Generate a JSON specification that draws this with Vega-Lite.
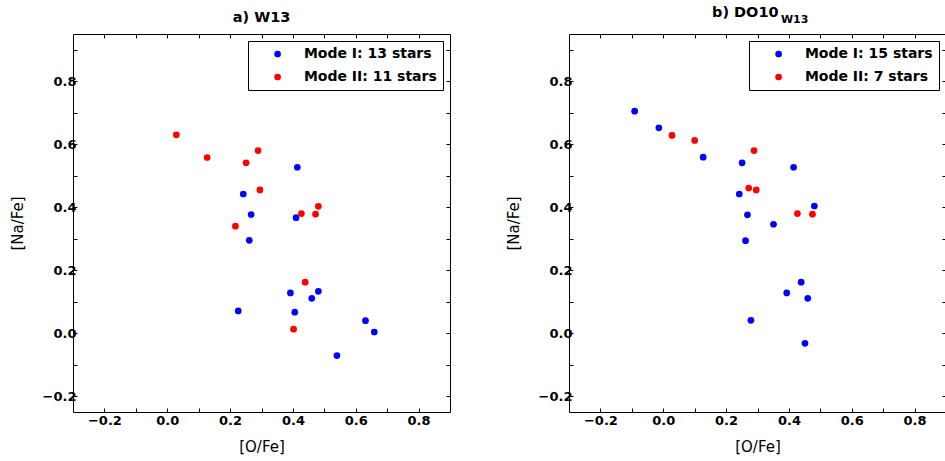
{
  "$schema": "https://vega.github.io/schema/vega-lite/v6.json",
  "background": "white",
  "padding": {"left": 9, "top": 4, "right": 0, "bottom": 0},
  "datasets": {
    "w13": [
      {"OFe": 0.414, "NaFe": 0.527, "mode": "Mode I"},
      {"OFe": 0.242, "NaFe": 0.442, "mode": "Mode I"},
      {"OFe": 0.267, "NaFe": 0.377, "mode": "Mode I"},
      {"OFe": 0.410, "NaFe": 0.367, "mode": "Mode I"},
      {"OFe": 0.261, "NaFe": 0.295, "mode": "Mode I"},
      {"OFe": 0.392, "NaFe": 0.128, "mode": "Mode I"},
      {"OFe": 0.481, "NaFe": 0.133, "mode": "Mode I"},
      {"OFe": 0.460, "NaFe": 0.111, "mode": "Mode I"},
      {"OFe": 0.226, "NaFe": 0.071, "mode": "Mode I"},
      {"OFe": 0.406, "NaFe": 0.067, "mode": "Mode I"},
      {"OFe": 0.631, "NaFe": 0.040, "mode": "Mode I"},
      {"OFe": 0.659, "NaFe": 0.004, "mode": "Mode I"},
      {"OFe": 0.540, "NaFe": -0.071, "mode": "Mode I"},
      {"OFe": 0.029, "NaFe": 0.630, "mode": "Mode II"},
      {"OFe": 0.127, "NaFe": 0.558, "mode": "Mode II"},
      {"OFe": 0.289, "NaFe": 0.580, "mode": "Mode II"},
      {"OFe": 0.251, "NaFe": 0.541, "mode": "Mode II"},
      {"OFe": 0.295, "NaFe": 0.455, "mode": "Mode II"},
      {"OFe": 0.481, "NaFe": 0.403, "mode": "Mode II"},
      {"OFe": 0.427, "NaFe": 0.380, "mode": "Mode II"},
      {"OFe": 0.472, "NaFe": 0.378, "mode": "Mode II"},
      {"OFe": 0.217, "NaFe": 0.340, "mode": "Mode II"},
      {"OFe": 0.439, "NaFe": 0.162, "mode": "Mode II"},
      {"OFe": 0.402, "NaFe": 0.013, "mode": "Mode II"}
    ],
    "do10": [
      {"OFe": -0.091, "NaFe": 0.705, "mode": "Mode I"},
      {"OFe": -0.014, "NaFe": 0.652, "mode": "Mode I"},
      {"OFe": 0.127, "NaFe": 0.559, "mode": "Mode I"},
      {"OFe": 0.251, "NaFe": 0.541, "mode": "Mode I"},
      {"OFe": 0.415, "NaFe": 0.527, "mode": "Mode I"},
      {"OFe": 0.242, "NaFe": 0.442, "mode": "Mode I"},
      {"OFe": 0.268, "NaFe": 0.376, "mode": "Mode I"},
      {"OFe": 0.351, "NaFe": 0.346, "mode": "Mode I"},
      {"OFe": 0.262, "NaFe": 0.294, "mode": "Mode I"},
      {"OFe": 0.439, "NaFe": 0.162, "mode": "Mode I"},
      {"OFe": 0.393, "NaFe": 0.128, "mode": "Mode I"},
      {"OFe": 0.460, "NaFe": 0.111, "mode": "Mode I"},
      {"OFe": 0.279, "NaFe": 0.041, "mode": "Mode I"},
      {"OFe": 0.451, "NaFe": -0.032, "mode": "Mode I"},
      {"OFe": 0.481, "NaFe": 0.404, "mode": "Mode I"},
      {"OFe": 0.028, "NaFe": 0.628, "mode": "Mode II"},
      {"OFe": 0.100, "NaFe": 0.612, "mode": "Mode II"},
      {"OFe": 0.289, "NaFe": 0.580, "mode": "Mode II"},
      {"OFe": 0.272, "NaFe": 0.461, "mode": "Mode II"},
      {"OFe": 0.296, "NaFe": 0.455, "mode": "Mode II"},
      {"OFe": 0.427, "NaFe": 0.380, "mode": "Mode II"},
      {"OFe": 0.475, "NaFe": 0.378, "mode": "Mode II"}
    ]
  },
  "config": {
    "font": "DejaVu Sans",
    "view": {"stroke": "black", "strokeWidth": 1},
    "axis": {
      "domain": false,
      "ticks": false,
      "grid": true,
      "gridColor": "black",
      "gridOpacity": 1,
      "gridWidth": 1,
      "labelFont": "DejaVu Sans",
      "labelFontSize": 13,
      "labelFontWeight": "bold",
      "labelColor": "black",
      "titleFont": "DejaVu Sans",
      "titleFontSize": 15,
      "titleFontWeight": "normal",
      "titleColor": "black"
    },
    "legend": {
      "orient": "top-right",
      "offset": 7,
      "padding": 6,
      "strokeColor": "black",
      "fillColor": "white",
      "cornerRadius": 0,
      "symbolType": "circle",
      "symbolSize": 45,
      "symbolStrokeWidth": 0,
      "symbolOffset": 16.6,
      "labelOffset": 19.3,
      "clipHeight": 14,
      "rowPadding": 9,
      "labelFont": "DejaVu Sans",
      "labelFontSize": 14,
      "labelFontWeight": "bold",
      "labelColor": "black",
      "labelLimit": 300
    },
    "title": {
      "font": "DejaVu Sans",
      "fontSize": 14.5,
      "fontWeight": "bold",
      "color": "black"
    }
  },
  "bounds": "flush",
  "spacing": 119,
  "resolve": {"scale": {"color": "independent"}, "legend": {"color": "independent"}},
  "hconcat": [
    {
      "width": 377,
      "height": 378,
      "title": {"text": "a) W13", "baseline": "alphabetic", "offset": -2.5, "frame": "group"},
      "data": {"name": "w13"},
      "mark": {"type": "point", "filled": true, "size": 45, "opacity": 1, "strokeWidth": 0},
      "encoding": {
        "x": {"field": "OFe", "type": "quantitative",
          "scale": {"domain": [-0.3, 0.9], "nice": false, "zero": false},
          "axis": {"orient": "bottom", "title": "[O/Fe]", "titlePadding": 12, "labelPadding": 2.5, "gridDash": [4, 370],
            "values": [-0.2, -0.1, 0, 0.1, 0.2, 0.3, 0.4, 0.5, 0.6, 0.7, 0.8],
            "labelExpr": "abs(round(datum.value*10)) % 2 == 0 ? format(datum.value, '.1f') : ''"}},
        "y": {"field": "NaFe", "type": "quantitative",
          "scale": {"domain": [-0.25, 0.95], "nice": false, "zero": false},
          "axis": {"orient": "left", "title": "[Na/Fe]", "titlePadding": 17, "labelPadding": 6, "offset": -9, "labelAlign": "right", "gridDash": [4, 369],
            "values": [-0.2, -0.1, 0, 0.1, 0.2, 0.3, 0.4, 0.5, 0.6, 0.7, 0.8, 0.9],
            "labelExpr": "abs(round(datum.value*10)) % 2 == 0 ? format(datum.value, '.1f') : ''"}},
        "color": {"field": "mode", "type": "nominal",
          "scale": {"domain": ["Mode I", "Mode II"], "range": ["#0000ff", "#ff0000"]},
          "legend": {"title": null, "labelExpr": "datum.label == 'Mode I' ? 'Mode I: 13 stars' : 'Mode II: 11 stars'"}}
      }
    },
    {
      "width": 377,
      "height": 378,
      "title": {"text": "b) DO10", "subtitle": "\u200b\u00a0\u00a0\u00a0\u00a0\u00a0\u00a0\u00a0\u00a0\u00a0\u00a0\u00a0\u00a0\u00a0\u00a0\u00a0\u00a0\u00a0\u00a0W13", "anchor": "start", "frame": "group", "dx": 143, "baseline": "alphabetic", "offset": -2.7,
        "subtitleFont": "DejaVu Sans", "subtitleFontSize": 11, "subtitleFontWeight": "bold", "subtitleColor": "black", "subtitlePadding": -9},
      "data": {"name": "do10"},
      "mark": {"type": "point", "filled": true, "size": 45, "opacity": 1, "strokeWidth": 0},
      "encoding": {
        "x": {"field": "OFe", "type": "quantitative",
          "scale": {"domain": [-0.3, 0.9], "nice": false, "zero": false},
          "axis": {"orient": "bottom", "title": "[O/Fe]", "titlePadding": 12, "labelPadding": 2.5, "gridDash": [4, 370],
            "values": [-0.2, -0.1, 0, 0.1, 0.2, 0.3, 0.4, 0.5, 0.6, 0.7, 0.8],
            "labelExpr": "abs(round(datum.value*10)) % 2 == 0 ? format(datum.value, '.1f') : ''"}},
        "y": {"field": "NaFe", "type": "quantitative",
          "scale": {"domain": [-0.25, 0.95], "nice": false, "zero": false},
          "axis": {"orient": "left", "title": "[Na/Fe]", "titlePadding": 17, "labelPadding": 6, "offset": -9, "labelAlign": "right", "gridDash": [4, 369],
            "values": [-0.2, -0.1, 0, 0.1, 0.2, 0.3, 0.4, 0.5, 0.6, 0.7, 0.8, 0.9],
            "labelExpr": "abs(round(datum.value*10)) % 2 == 0 ? format(datum.value, '.1f') : ''"}},
        "color": {"field": "mode", "type": "nominal",
          "scale": {"domain": ["Mode I", "Mode II"], "range": ["#0000ff", "#ff0000"]},
          "legend": {"title": null, "labelExpr": "datum.label == 'Mode I' ? 'Mode I: 15 stars' : 'Mode II: 7 stars'"}}
      }
    }
  ]
}
